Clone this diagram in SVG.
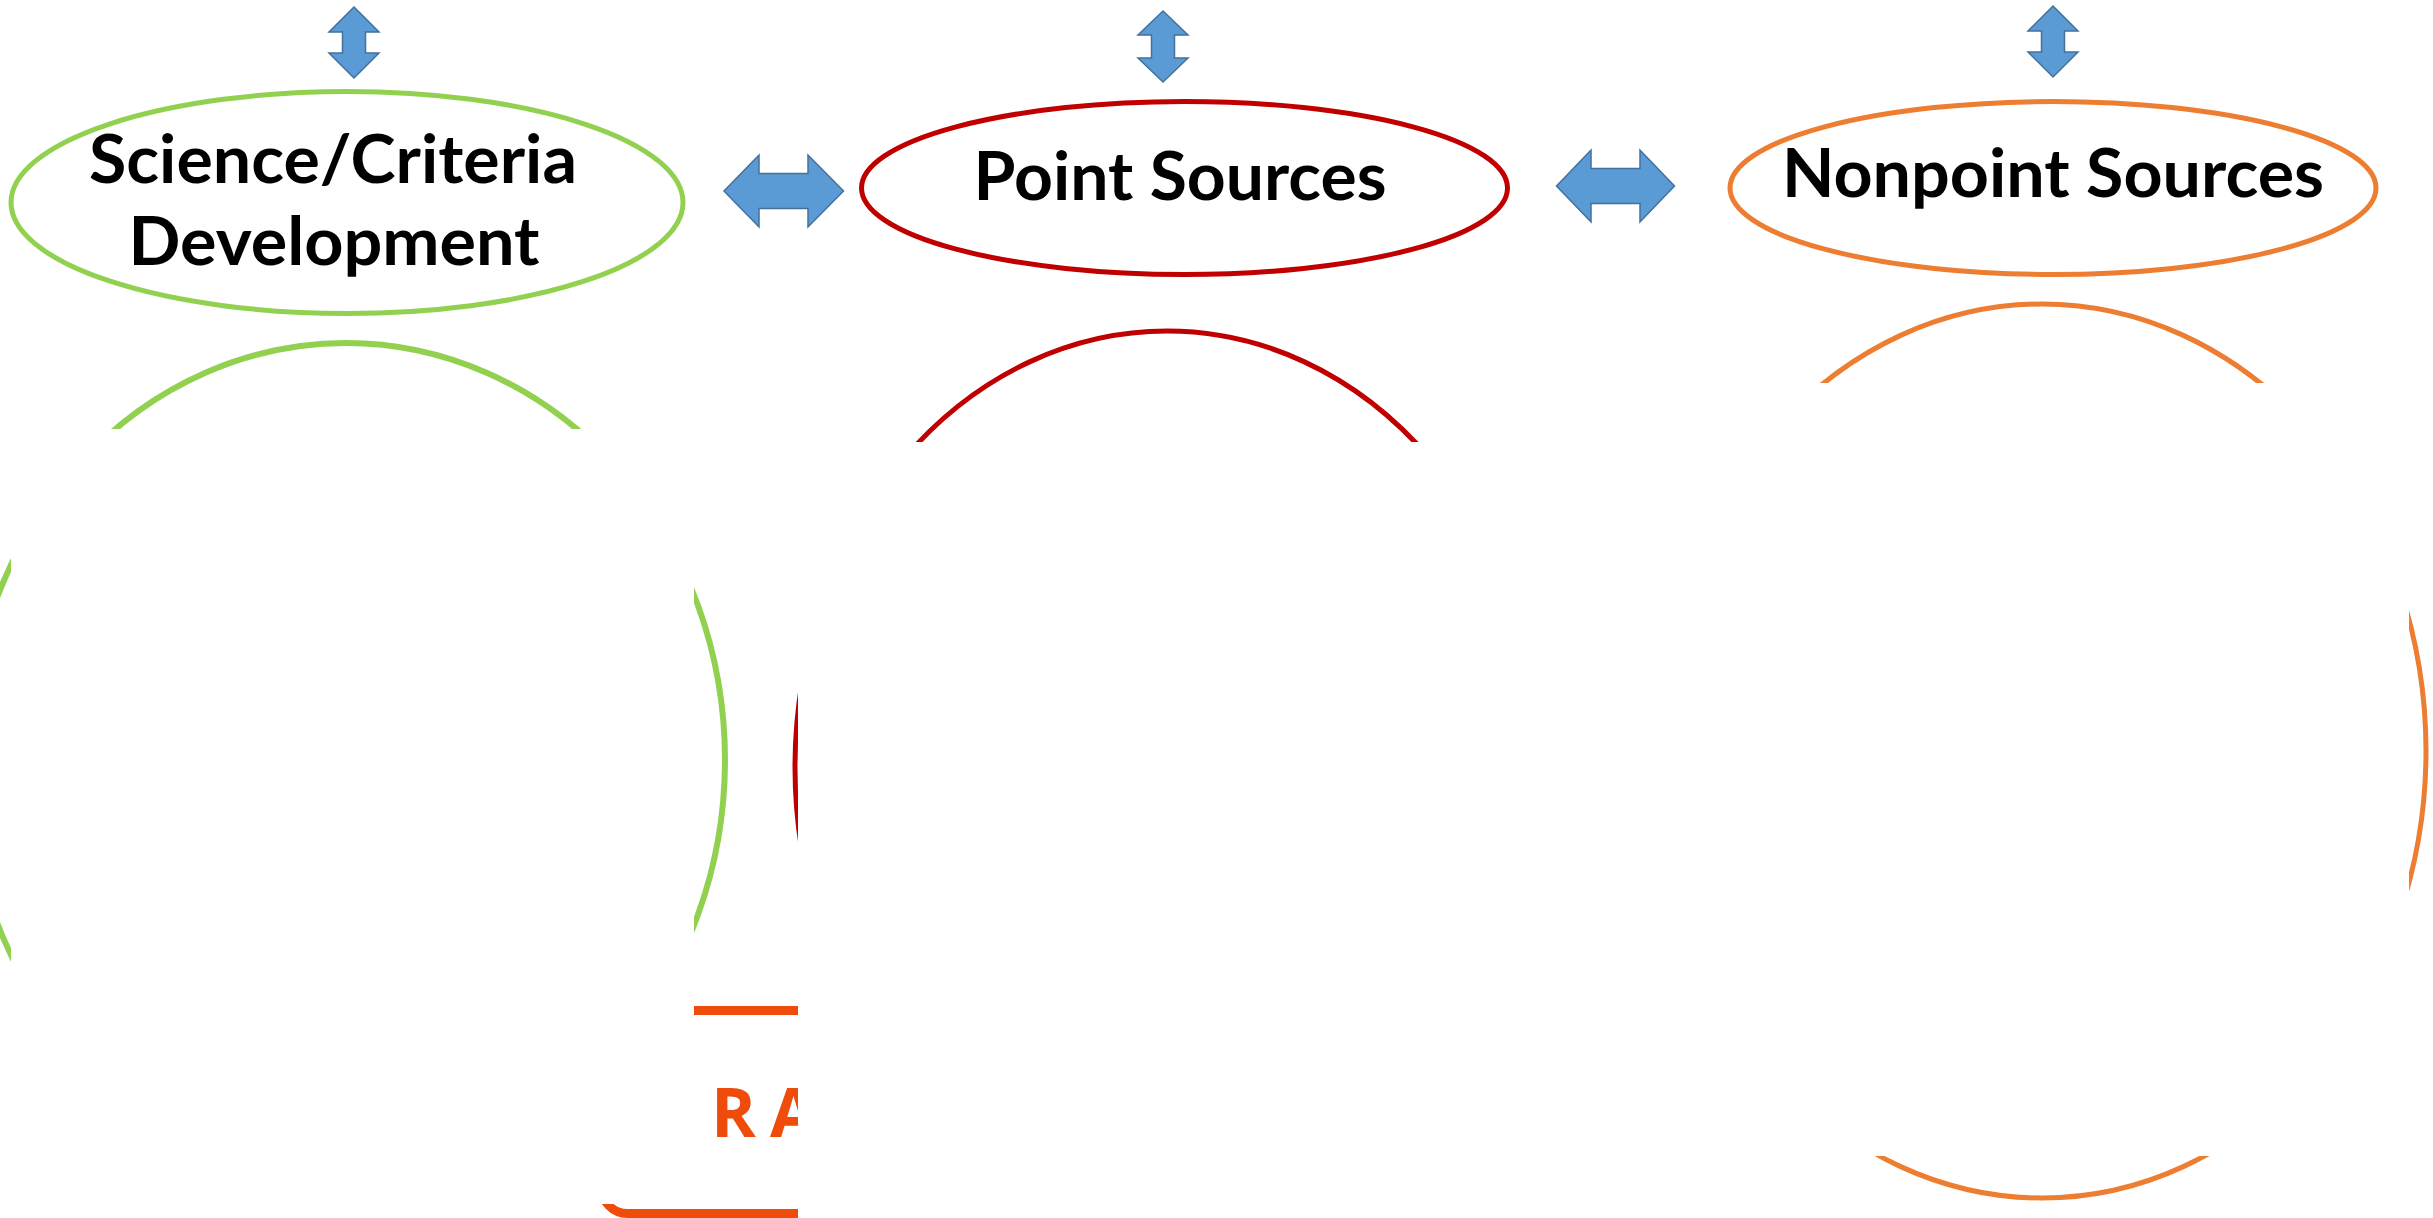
<svg xmlns="http://www.w3.org/2000/svg" width="2433" height="1218" viewBox="0 0 2433 1218">
<style>
.lbl{font-family:Lato,"Open Sans","Liberation Sans",sans-serif;font-weight:bold;font-size:67px;fill:#000;text-anchor:middle}
.arr{fill:#5B9BD5;stroke:#41719C;stroke-width:1.5;stroke-linejoin:miter}
.cov{fill:#fff;stroke:none}
.ring{fill:none}
</style>
<rect width="2433" height="1218" fill="#fff"/>
<!-- large rings (partly hidden) -->
<g id="rings">
<ellipse class="ring" cx="346" cy="760" rx="379" ry="417" stroke="#92D050" stroke-width="6"/>
<ellipse class="ring" cx="1167" cy="767" rx="372" ry="436" stroke="#C00000" stroke-width="5"/>
<ellipse class="ring" cx="2042" cy="751" rx="384" ry="447" stroke="#ED7D31" stroke-width="5"/>
</g>
<g id="logo">
<rect x="601.5" y="1010.5" width="420" height="203" rx="26" fill="none" stroke="#EF4B0B" stroke-width="9"/>
<text x="711" y="1137" font-family="Open Sans, Liberation Sans, sans-serif" font-weight="bold" font-size="68" letter-spacing="14" fill="#EF4B0B">RA</text>
</g>
<!-- occluding panels -->
<g id="panels">
<rect class="cov" x="11" y="429" width="683" height="775"/>
<rect class="cov" x="798" y="442" width="871" height="776"/>
<rect class="cov" x="1669" y="383" width="740" height="773"/>
</g>
<g id="node-science">
<ellipse cx="347" cy="202.5" rx="336" ry="111" fill="#fff" stroke="#92D050" stroke-width="5"/>
<text class="lbl" x="333" y="183" textLength="488" lengthAdjust="spacingAndGlyphs">Science/Criteria</text>
<text class="lbl" x="334" y="265" textLength="411" lengthAdjust="spacingAndGlyphs">Development</text>
</g>
<g id="node-point">
<ellipse cx="1184.5" cy="188" rx="323" ry="86.5" fill="#fff" stroke="#C00000" stroke-width="5"/>
<text class="lbl" x="1180" y="200" textLength="413" lengthAdjust="spacingAndGlyphs">Point Sources</text>
</g>
<g id="node-nonpoint">
<ellipse cx="2053" cy="188" rx="323" ry="86.5" fill="#fff" stroke="#ED7D31" stroke-width="5"/>
<text class="lbl" x="2053" y="197" textLength="542" lengthAdjust="spacingAndGlyphs">Nonpoint Sources</text>
</g>
<g id="connectors">
<polygon class="arr" points="354,7 379,32 365.5,32 365.5,53 379,53 354,78 329,53 342.5,53 342.5,32 329,32"/>
<polygon class="arr" points="1163,11 1188,35 1174.5,35 1174.5,58 1188,58 1163,82 1138,58 1151.5,58 1151.5,35 1138,35"/>
<polygon class="arr" points="2053,6 2078,31 2064.5,31 2064.5,52 2078,52 2053,77 2028,52 2041.5,52 2041.5,31 2028,31"/>
<polygon class="arr" points="724,191 759,155 759,173.5 808,173.5 808,155 843.5,191 808,227 808,208.5 759,208.5 759,227"/>
<polygon class="arr" points="1556.5,186 1591,150 1591,168.5 1640,168.5 1640,150 1674.5,186 1640,222 1640,203.5 1591,203.5 1591,222"/>
</g>
</svg>
